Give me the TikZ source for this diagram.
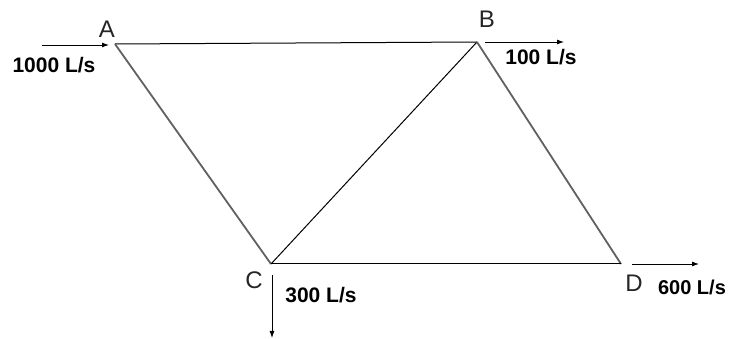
\documentclass[tikz,border=0pt]{standalone}
\usepackage{fontspec}
\setmainfont{Liberation Sans}
\usetikzlibrary{arrows.meta}
\begin{document}
\begin{tikzpicture}[x=1pt,y=-1pt,
  pipe/.style={draw=black,line width=1pt},
  pipegray/.style={draw=black!62,line width=1.8pt},
  flow/.style={draw=black,line width=0.9pt,-{Latex[length=7pt,width=5pt]}},
  vlabel/.style={inner sep=0pt,font=\fontsize{24}{28}\selectfont,text=black!85},
  qlabel/.style={inner sep=0pt,font=\fontsize{21}{24}\selectfont\bfseries}]
\useasboundingbox[fill=white] (0,0) rectangle (732,339);
\coordinate (A) at (115,44);
\coordinate (B) at (477,42);
\coordinate (C) at (271,264);
\coordinate (D) at (621,264);
\draw[pipe] (A) -- (B);
\draw[pipegray] (A) -- (C);
\draw[pipe] (B) -- (C);
\draw[pipegray] (B) -- (D);
\draw[pipe] (C) -- (D);
\coordinate (a0) at (42,45);
\coordinate (a1) at (109,45);
\coordinate (b0) at (485,42);
\coordinate (b1) at (564,42);
\coordinate (c0) at (272,275);
\coordinate (c1) at (272,338);
\coordinate (d0) at (632,264);
\coordinate (d1) at (699,264);
\draw[flow] (a0) -- (a1);
\draw[flow] (b0) -- (b1);
\draw[flow] (c0) -- (c1);
\draw[flow] (d0) -- (d1);
\node[vlabel] (lA) at (107,29) {A};
\node[vlabel] (lB) at (487,19) {B};
\node[vlabel] (lC) at (254,280) {C};
\node[vlabel] (lD) at (634,283) {D};
\node[qlabel] (qA) at (54,65) {1000 L/s};
\node[qlabel] (qB) at (541,57) {100 L/s};
\node[qlabel] (qC) at (321,295) {300 L/s};
\node[qlabel,font=\fontsize{20}{23}\selectfont\bfseries] (qD) at (692,287) {600 L/s};
\end{tikzpicture}
\end{document}
